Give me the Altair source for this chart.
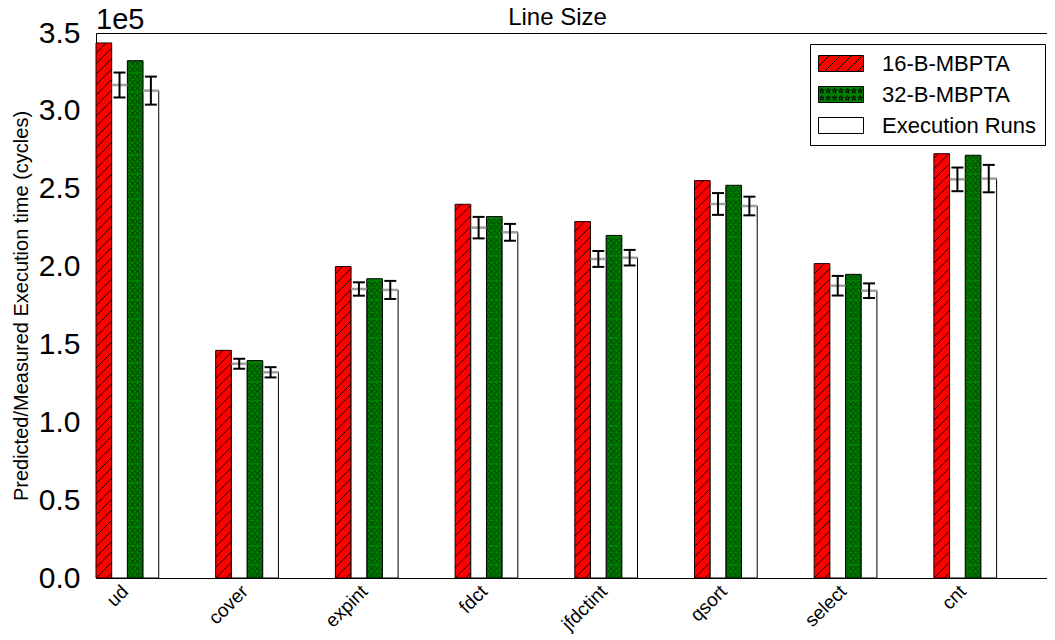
import math
import altair as alt
import pandas as pd

# ---------------- data (in units of 1e5 cycles) ----------------
benches = ["ud", "cover", "expint", "fdct", "jfdctint", "qsort", "select", "cnt"]
mbpta16 = [3.436, 1.462, 2.000, 2.400, 2.289, 2.552, 2.019, 2.725]
exec16 = [3.166, 1.376, 1.856, 2.250, 2.049, 2.402, 1.877, 2.560]
err16 = [0.080, 0.032, 0.043, 0.069, 0.051, 0.070, 0.063, 0.076]
mbpta32 = [3.322, 1.396, 1.922, 2.321, 2.200, 2.522, 1.950, 2.715]
exec32 = [3.130, 1.321, 1.850, 2.220, 2.057, 2.389, 1.845, 2.565]
err32 = [0.090, 0.033, 0.058, 0.054, 0.050, 0.060, 0.047, 0.088]
legend_names = ["16-B-MBPTA", "32-B-MBPTA", "Execution Runs"]
y_ticks = [0, 0.5, 1.0, 1.5, 2.0, 2.5, 3.0, 3.5]
exponent_label = ["1e5"]
chart_title = "Line Size"
y_title = "Predicted/Measured Execution time (cycles)"

rows = []
for i, b in enumerate(benches):
    rows.append(dict(bench=b, idx=i, slot=0, value=mbpta16[i], err=0))
    rows.append(dict(bench=b, idx=i, slot=1, value=exec16[i], err=err16[i]))
    rows.append(dict(bench=b, idx=i, slot=2, value=mbpta32[i], err=0))
    rows.append(dict(bench=b, idx=i, slot=3, value=exec32[i], err=err32[i]))
df = pd.DataFrame(rows)

# ---------------- style constants ----------------
FONT = "Liberation Sans"
PW, PH = 951, 545     # plot area in px
W = 0.131             # bar width in group units
XDOM = [-0.131, 7.814]
HATCH_SP = 0.0674     # vertical spacing of hatch lines (data units)
HATCH_RISE = 0.1008   # rise of one hatch line across a bar (45 deg)
STAR_ROW = 0.0405     # spacing of star rows
CAP = 0.05            # half cap width (group units)
RED = "#ff0000"
GREEN = "#008000"

XS = alt.Scale(domain=XDOM, nice=False, zero=False)
YS = alt.Scale(domain=[0, 3.5], nice=False, zero=True)

label_expr = "[" + ",".join("'%s'" % b for b in benches) + "][datum.value]"

x_axis = alt.Axis(values=list(range(len(benches))), labelExpr=label_expr,
                  labelAngle=-45, labelAlign="right", labelBaseline="middle",
                  labelFont=FONT, labelFontSize=19, labelColor="black",
                  labelOffset=13, labelPadding=10, labelFlush=False, labelOverlap=False,
                  ticks=False, domain=False, grid=False, title=None)
y_axis = alt.Axis(values=y_ticks, format=".1f",
                  labelFont=FONT, labelFontSize=30, labelColor="black",
                  labelPadding=16, labelFlush=False, labelOverlap=False,
                  ticks=False, domain=False, grid=False,
                  title=y_title, titleFont=FONT, titleFontSize=20,
                  titleFontWeight="normal", titleColor="black", titlePadding=7)


def X(field):
    return alt.X(field, type="quantitative", scale=XS, axis=x_axis)


def Y(field):
    return alt.Y(field, type="quantitative", scale=YS, axis=y_axis)


base = alt.Chart(df).transform_calculate(
    left="datum.idx + (datum.slot - 1) * %f" % W
).transform_calculate(
    right="datum.left + %f" % W
).transform_calculate(
    mid="datum.left + %f" % (W / 2)
).transform_calculate(
    zero="0"
)

red_bars = base.transform_filter("datum.slot == 0").mark_rect(
    fill=RED, stroke="#1a0000", strokeWidth=1
).encode(x=X("left:Q"), x2="right:Q", y=Y("value:Q"), y2="zero:Q")

hatch = base.transform_filter("datum.slot == 0").transform_calculate(
    k="sequence(-2, ceil(datum.value / %f) + 1)" % HATCH_SP
).transform_flatten(["k"]).transform_calculate(
    y0="datum.k * %f" % HATCH_SP
).transform_calculate(
    ts="max(0, -datum.y0 / %f)" % HATCH_RISE
).transform_calculate(
    te="min(1, (datum.value - datum.y0) / %f)" % HATCH_RISE
).transform_filter("datum.te > datum.ts").transform_calculate(
    hx1="datum.left + %f * datum.ts" % W
).transform_calculate(
    hx2="datum.left + %f * datum.te" % W
).transform_calculate(
    hy1="datum.y0 + %f * datum.ts" % HATCH_RISE
).transform_calculate(
    hy2="datum.y0 + %f * datum.te" % HATCH_RISE
).mark_rule(color="black", strokeWidth=0.9).encode(
    x=X("hx1:Q"), x2="hx2:Q", y=Y("hy1:Q"), y2="hy2:Q")

green_bars = base.transform_filter("datum.slot == 2").mark_rect(
    fill=GREEN, stroke="black", strokeWidth=1
).encode(x=X("left:Q"), x2="right:Q", y=Y("value:Q"), y2="zero:Q")

stars = base.transform_filter("datum.slot == 2").transform_calculate(
    r="sequence(0, floor(datum.value / %f) + 1)" % STAR_ROW
).transform_flatten(["r"]).transform_calculate(
    c="sequence(0, 3)"
).transform_flatten(["c"]).transform_calculate(
    sx="datum.left + %f * (2 * datum.c + 1) / 6" % W
).transform_calculate(
    sy="(datum.r + 0.5) * %f" % STAR_ROW
).transform_filter("datum.sy + 0.015 < datum.value").mark_text(
    text="\u2729", font="DejaVu Sans", fontSize=8, color="black",
    align="center", baseline="middle"
).encode(x=X("sx:Q"), y=Y("sy:Q"))

exec_bars = base.transform_filter("datum.slot == 1 || datum.slot == 3").mark_rect(
    fill="white", stroke="black", strokeWidth=1
).encode(x=X("left:Q"), x2="right:Q", y=Y("value:Q"), y2="zero:Q")

mean_line = base.transform_filter("datum.slot == 1 || datum.slot == 3").mark_rule(
    color="#a0a0a0", strokeWidth=2.5
).encode(x=X("left:Q"), x2="right:Q", y=Y("value:Q"))

err_base = base.transform_filter("datum.slot == 1 || datum.slot == 3").transform_calculate(
    lo="datum.value - datum.err"
).transform_calculate(
    hi="datum.value + datum.err"
).transform_calculate(
    c1="datum.mid - %f" % CAP
).transform_calculate(
    c2="datum.mid + %f" % CAP
)
err_v = err_base.mark_rule(color="black", strokeWidth=2).encode(
    x=X("mid:Q"), y=Y("lo:Q"), y2="hi:Q")
cap_lo = err_base.mark_rule(color="black", strokeWidth=2).encode(
    x=X("c1:Q"), x2="c2:Q", y=Y("lo:Q"))
cap_hi = err_base.mark_rule(color="black", strokeWidth=2).encode(
    x=X("c1:Q"), x2="c2:Q", y=Y("hi:Q"))

exp_text = alt.Chart(pd.DataFrame({"t": exponent_label})).mark_text(
    font=FONT, fontSize=29, align="left", baseline="alphabetic", color="black"
).encode(text="t:N", x=alt.value(0), y=alt.value(-4))


# ---------------- legend symbols (custom paths) ----------------
def fmt(v):
    return ("%.3f" % v).rstrip("0").rstrip(".")


SR = 11.0                       # symbol "radius" in px (symbolSize = (2*SR)^2)
SX0, SX1, SH = -SR, -SR + 45.0, 16.0   # rectangle extent in px around the symbol centre


def P(px, py):
    return "%s,%s" % (fmt(px / SR), fmt(py / SR))


rect_path = "M%s L%s L%s L%s Z" % (P(SX0, -SH / 2), P(SX1, -SH / 2), P(SX1, SH / 2), P(SX0, SH / 2))
hatch_parts = []
x0 = SX0 - SH
while x0 < SX1:
    t0 = max(0.0, (SX0 - x0) / SH)
    t1 = min(1.0, (SX1 - x0) / SH)
    if t1 > t0:
        hatch_parts.append("M%s L%s" % (P(x0 + SH * t0, SH / 2 - SH * t0),
                                        P(x0 + SH * t1, SH / 2 - SH * t1)))
    x0 += 11.0
red_path = rect_path + " " + " ".join(hatch_parts)

star_parts = []
for ry in (-3.6, 3.6):
    for j in range(7):
        cx = SX0 + 3.3 + 6.4 * j
        pts = []
        for q in range(10):
            ang = -math.pi / 2 + q * math.pi / 5
            rr = 2.4 if q % 2 == 0 else 1.0
            pts.append(P(cx + rr * math.cos(ang), ry + rr * math.sin(ang)))
        star_parts.append("M" + " L".join(pts) + " Z")
green_path = rect_path + " " + " ".join(star_parts)

legend = alt.Legend(title=None, orient="none", legendX=714, legendY=11,
                    labelFont=FONT, labelFontSize=22, labelColor="black",
                    labelOffset=41, symbolSize=(2 * SR) ** 2, rowPadding=8, symbolOpacity=1,
                    padding=8, strokeColor="black", fillColor="white",
                    symbolStrokeColor="black", symbolStrokeWidth=1, cornerRadius=0)

legend_layer = alt.Chart(pd.DataFrame({"series": legend_names})).transform_filter(
    "false"
).mark_point(filled=True, size=(2 * SR) ** 2, opacity=1, strokeWidth=1).encode(
    x=alt.value(0), y=alt.value(0),
    fill=alt.Fill("series:N", scale=alt.Scale(domain=legend_names, range=[RED, GREEN, "white"]),
                  legend=legend),
    shape=alt.Shape("series:N", scale=alt.Scale(domain=legend_names,
                                                range=[red_path, green_path, rect_path]),
                    legend=legend),
    stroke=alt.Stroke("series:N", scale=alt.Scale(domain=legend_names,
                                                  range=["black", "black", "black"]),
                      legend=legend),
)

chart = alt.layer(
    red_bars, hatch, green_bars, stars, exec_bars, mean_line, err_v, cap_lo, cap_hi,
    exp_text, legend_layer
).properties(
    width=PW, height=PH,
    padding={"left": 3, "top": -2, "right": 0, "bottom": 0},
    title=alt.TitleParams(chart_title, font=FONT, fontSize=24, fontWeight="normal",
                          color="black", anchor="middle", offset=-24, dx=-14),
).configure(background="white").configure_view(stroke="black", strokeWidth=1)

chart.save("out.html", embed_options={"renderer": "svg", "actions": False})
